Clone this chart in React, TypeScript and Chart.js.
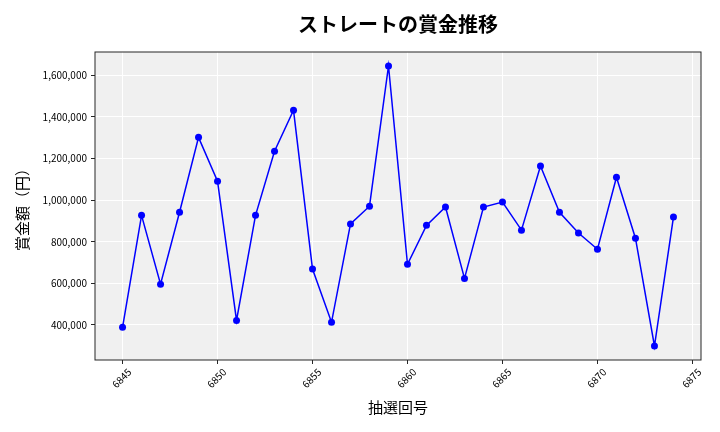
import React, { useEffect, useRef } from "react";
import { Chart, registerables } from "chart.js";

Chart.register(...registerables);

const draws = [6845, 6846, 6847, 6848, 6849, 6850, 6851, 6852, 6853, 6854, 6855, 6856, 6857, 6858, 6859, 6860, 6861, 6862, 6863, 6864, 6865, 6866, 6867, 6868, 6869, 6870, 6871, 6872, 6873, 6874];
const prizes = [389000, 927000, 596000, 942000, 1302000, 1091000, 422000, 927000, 1235000, 1432000, 669000, 413000, 886000, 971000, 1645000, 692000, 879000, 967000, 624000, 967000, 991000, 856000, 1164000, 942000, 842000, 764000, 1110000, 817000, 299000, 919000];
const xTicks = [6845, 6850, 6855, 6860, 6865, 6870, 6875];
const yTicks = [400000, 600000, 800000, 1000000, 1200000, 1400000, 1600000];

const TITLE = "ストレートの賞金推移";
const X_TITLE = "抽選回号";
const Y_TITLE = "賞金額（円）";
const FONT = "'Noto Sans CJK JP', 'Noto Sans', sans-serif";

export default function App() {
  const ref = useRef<HTMLCanvasElement | null>(null);

  useEffect(() => {
    if (!ref.current) return;
    const xMin = draws[0], xMax = draws[draws.length - 1];
    const xPad = (xMax - xMin) * 0.05;
    const yMinV = Math.min(...prizes), yMaxV = Math.max(...prizes);
    const yPad = (yMaxV - yMinV) * 0.05;

    const decor = {
      id: "decor",
      beforeDraw(chart: any) {
        const { ctx, chartArea: a } = chart;
        ctx.save();
        ctx.fillStyle = "#f0f0f0";
        ctx.fillRect(a.left, a.top, a.right - a.left, a.bottom - a.top);
        ctx.restore();
      },
      afterDraw(chart: any) {
        const { ctx, chartArea: a } = chart;
        ctx.save();
        ctx.strokeStyle = "#262626";
        ctx.lineWidth = 1;
        ctx.strokeRect(a.left, a.top, a.right - a.left, a.bottom - a.top);
        ctx.fillStyle = "#000";
        ctx.textAlign = "center";
        ctx.textBaseline = "middle";
        ctx.font = `bold 20px ${FONT}`;
        ctx.fillText(TITLE, (a.left + a.right) / 2, 24);
        ctx.font = `15px ${FONT}`;
        ctx.fillText(X_TITLE, (a.left + a.right) / 2, 407);
        ctx.translate(22, (a.top + a.bottom) / 2);
        ctx.rotate(-Math.PI / 2);
        ctx.fillText(Y_TITLE, 0, 0);
        ctx.restore();
      },
    };

    const chart = new Chart(ref.current, {
      type: "line",
      data: {
        datasets: [
          {
            data: draws.map((d, i) => ({ x: d, y: prizes[i] })),
            borderColor: "#0000ff",
            backgroundColor: "#0000ff",
            borderWidth: 1.5,
            pointRadius: 3.5,
            pointHoverRadius: 3.5,
            pointBorderWidth: 0,
            tension: 0,
          },
        ],
      },
      options: {
        responsive: false,
        animation: false,
        layout: { padding: { left: 0, top: 52, right: 19, bottom: 0 } },
        plugins: { legend: { display: false }, tooltip: { enabled: false } },
        scales: {
          x: {
            type: "linear",
            min: xMin - xPad,
            max: xMax + xPad,
            afterBuildTicks: (s: any) => {
              s.ticks = xTicks.map((v) => ({ value: v }));
            },
            afterFit: (s: any) => {
              s.height = 72;
            },
            grid: { color: "#ffffff", lineWidth: 1, tickColor: "#262626", tickLength: 4, drawOnChartArea: true },
            border: { display: false },
            ticks: {
              minRotation: 45,
              maxRotation: 45,
              labelOffset: 7,
              padding: 2,
              color: "#000",
              font: { family: FONT, size: 10 },
              callback: (v: any) => String(v),
            },
          },
          y: {
            type: "linear",
            min: yMinV - yPad,
            max: yMaxV + yPad,
            afterBuildTicks: (s: any) => {
              s.ticks = yTicks.map((v) => ({ value: v }));
            },
            afterFit: (s: any) => {
              s.width = 95;
            },
            grid: { color: "#ffffff", lineWidth: 1, tickColor: "#262626", tickLength: 4 },
            border: { display: false },
            ticks: {
              padding: 4,
              color: "#000",
              font: { family: FONT, size: 10 },
              callback: (v: any) => Number(v).toLocaleString("en-US"),
            },
          },
        },
      },
      plugins: [decor],
    } as any);
    return () => chart.destroy();
  }, []);

  return (
    <div style={{ position: "absolute", left: 0, top: 0, width: 720, height: 432, background: "#fff" }}>
      <canvas ref={ref} width={720} height={432} style={{ width: 720, height: 432 }} />
    </div>
  );
}
